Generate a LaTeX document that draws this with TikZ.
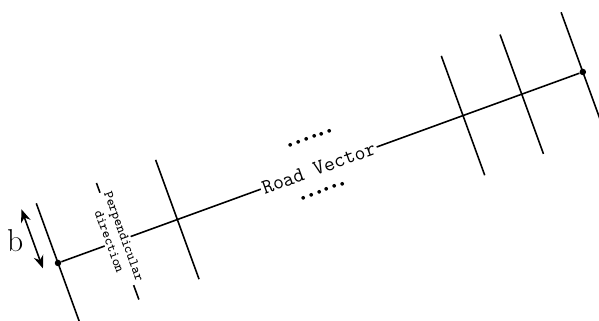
\documentclass[tikz,border=0pt]{standalone}
\usepackage{fontspec}
\usetikzlibrary{arrows.meta}

\begin{document}
\begin{tikzpicture}[
  >={Stealth[length=2.6mm,width=2mm]},
  roadline/.style={line width=0.9pt},
  crossline/.style={line width=0.9pt},
  endpoint/.style={circle, fill=black, inner sep=0pt, minimum size=1.3mm},
  roadtext/.style={fill=white, inner sep=1pt, font=\ttfamily\fontsize{12}{14}\selectfont},
  gapdots/.style={rotate=20, inner sep=0pt, font=\bfseries\fontsize{15}{16}\selectfont},
]
  \useasboundingbox (0,0) rectangle (11.98,6.42);
  \clip (0,0) rectangle (11.98,6.42);

  \begin{scope}[shift={(1.16,1.16)}, rotate=20]
    % Perpendicular lines across the road
    \foreach \x/\name in {0/pa, 2.54/pb, 8.62/pc, 9.87/pd, 11.17/pe} {
      \coordinate (\name top) at (\x,1.27);
      \coordinate (\name bot) at (\x,-1.27);
      \draw[crossline] (\name top) -- (\name bot);
    }

    % Road end points
    \node[endpoint] (start) at (0,0) {};
    \node[endpoint] (end) at (11.17,0) {};

    % Perpendicular direction marker
    \coordinate (dirtop) at (1.27,1.24);
    \coordinate (dirbot) at (1.27,-1.24);
    \draw[crossline] (dirtop) -- (dirbot);

    % Road vector
    \draw[roadline] (start) -- (end);

    % Labels
    \node[roadtext, rotate=20] (roadlabel) at (5.55,0) {Road Vector};
    \node[roadtext, rotate=-70, align=center, font=\ttfamily\fontsize{7.8}{8.8}\selectfont] (dirlabel) at (1.27,0.05) {Perpendicular\\direction};

    \node[gapdots] (dotsup) at (5.6,0.62) {......};
    \node[gapdots] (dotsdown) at (5.48,-0.46) {......};

    % Half width b
    \coordinate (bbot) at (-0.32,0);
    \coordinate (btop) at (-0.32,1.26);
    \draw[<->, line width=0.9pt] (bbot) -- (btop);
    \node[font=\fontsize{18}{20}\selectfont] (blabel) at (-0.65,0.72) {b};
  \end{scope}
\end{tikzpicture}
\end{document}
